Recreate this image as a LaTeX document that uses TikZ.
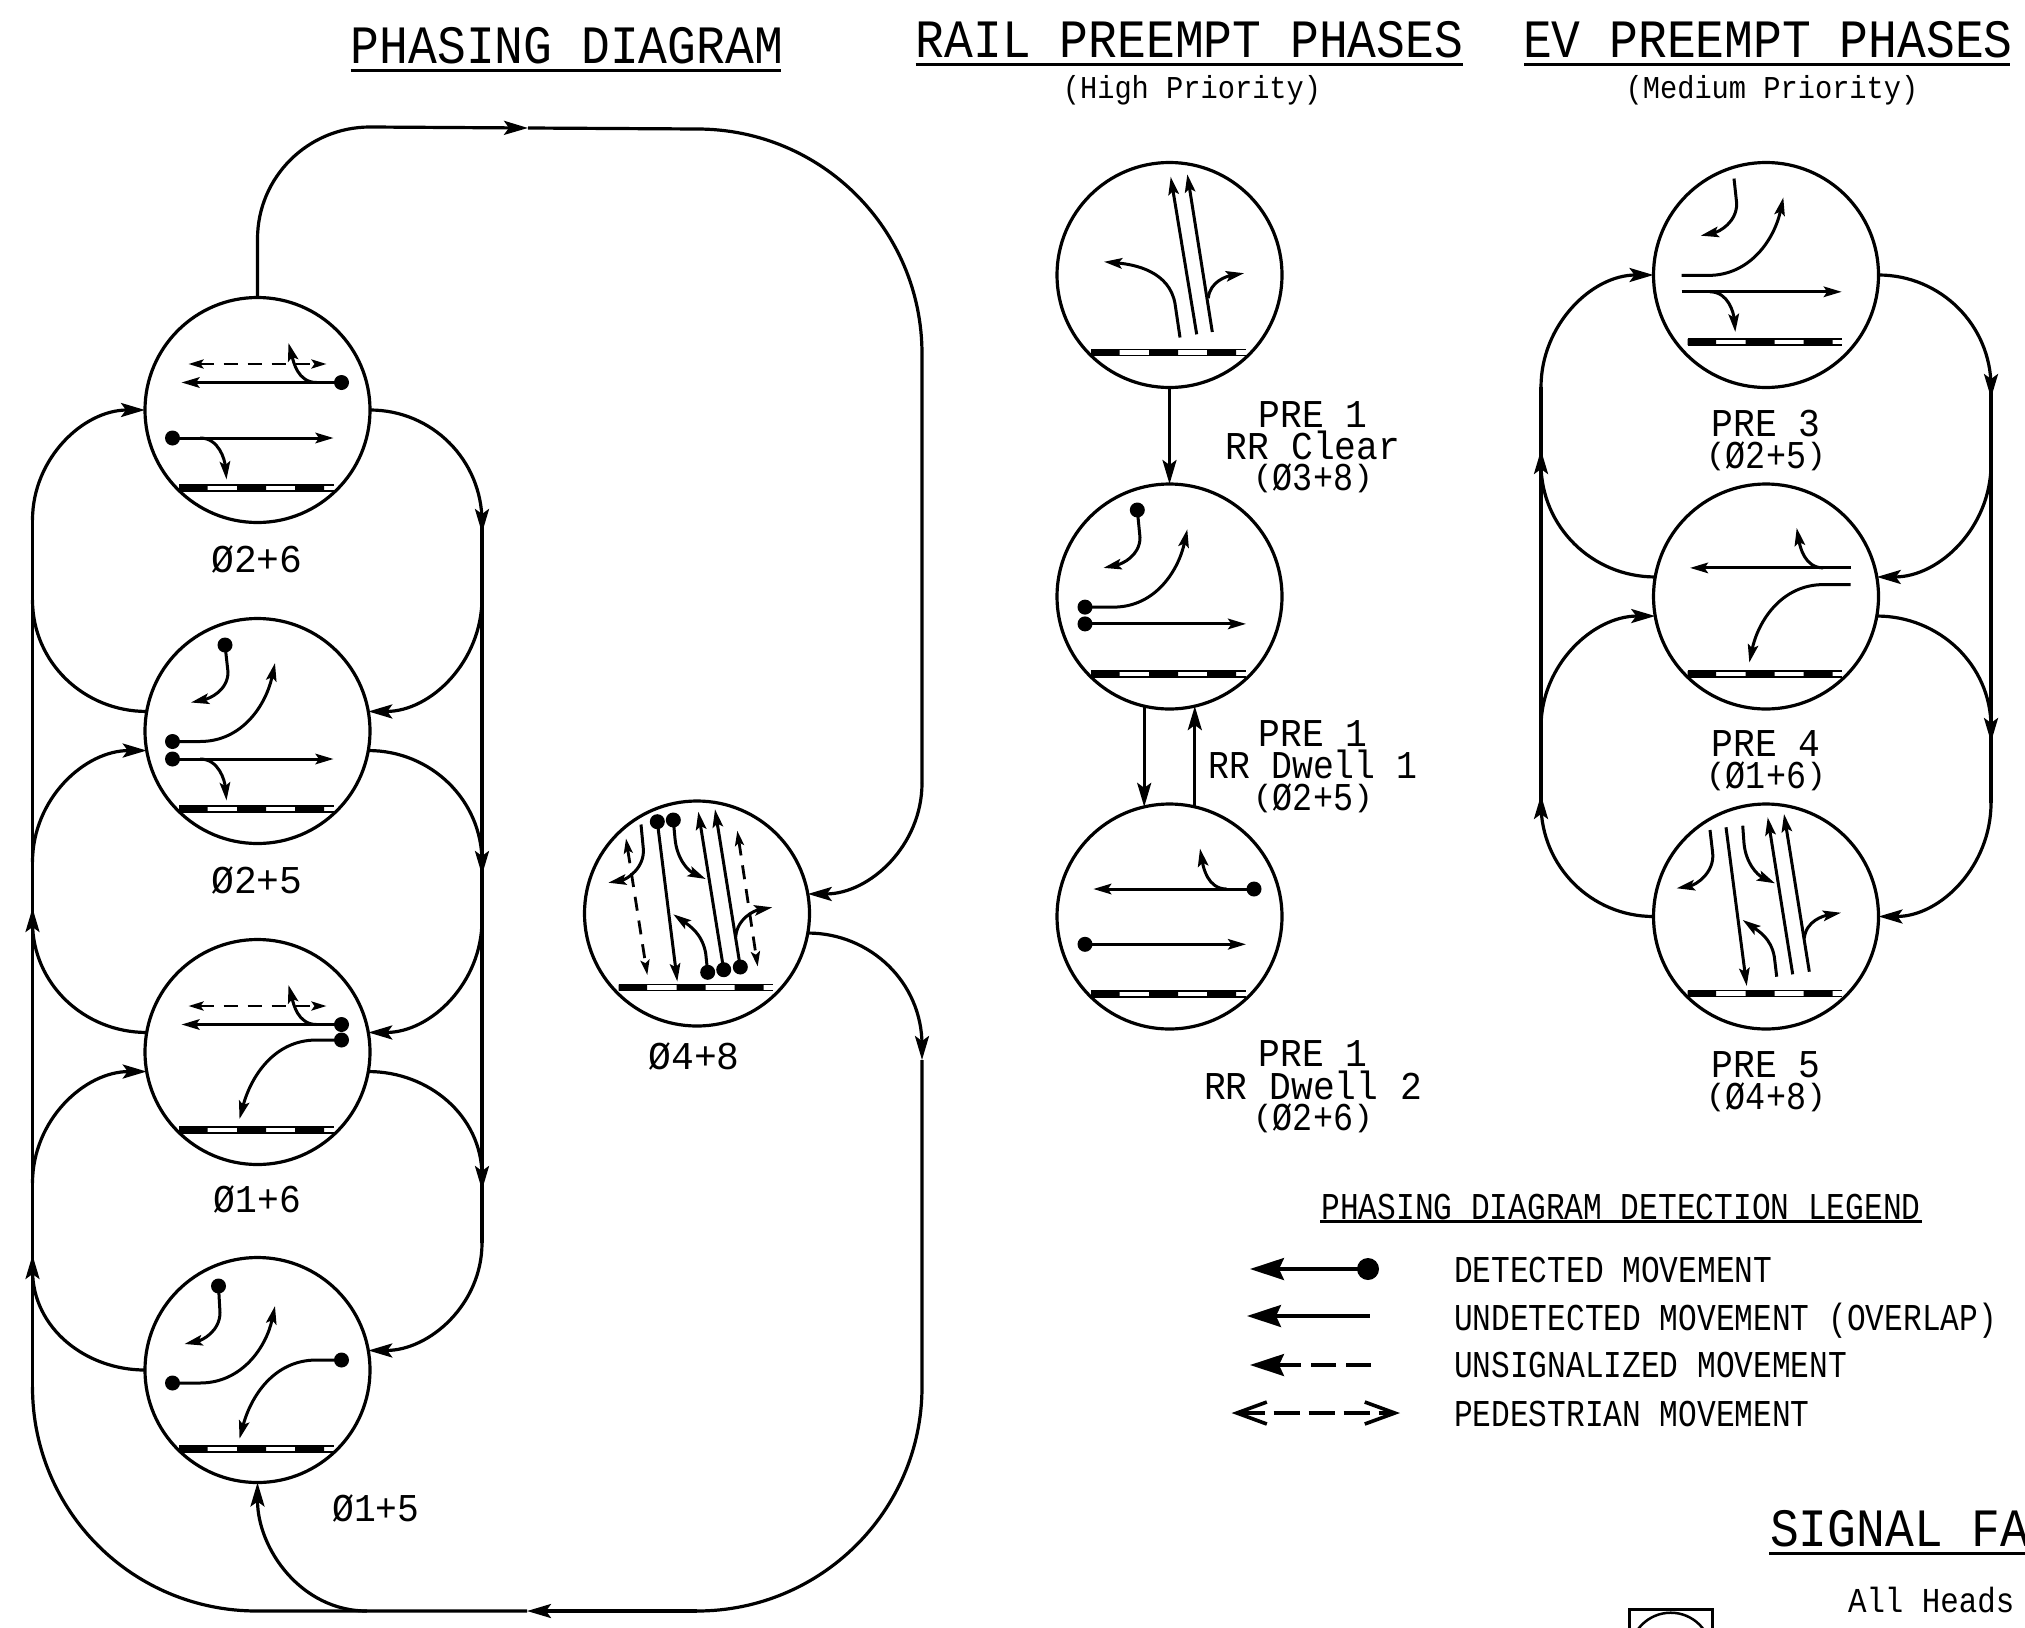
\documentclass[tikz,border=0pt]{standalone}
\usepackage{fontspec}
\usepackage{graphicx}
\setmainfont{Liberation Mono}
\usetikzlibrary{arrows.meta}
\tikzset{
  phase/.style={circle,draw,line width=3.2pt,minimum size=225pt,inner sep=0pt,outer sep=0pt},
  wire/.style={line width=3.2pt},
  conn/.style={line width=3.2pt,-{Stealth[length=24pt,width=14pt,inset=5pt]}},
  mv/.style={line width=3pt,-{Stealth[length=18pt,width=10.5pt,inset=3.5pt]}},
  ped/.style={line width=2.8pt,dash pattern=on 14pt off 10pt,{Stealth[length=15pt,width=9pt,inset=3pt]}-{Stealth[length=15pt,width=9pt,inset=3pt]}},
  lbl/.style={inner sep=0pt,outer sep=0pt,anchor=base},
  lblw/.style={inner sep=0pt,outer sep=0pt,anchor=base west},
  rule/.style={line width=3pt},
  legend/.style={line width=3.2pt},
}
\newcommand\ttl[1]{\scalebox{4.8}[5.4]{#1}}
\newcommand\lab[1]{\scalebox{3.63}[3.94]{#1}}
\newcommand\labw[1]{\scalebox{3.8}[3.94]{#1}}
\newcommand\labn[1]{\scalebox{3.48}[3.94]{#1}}
\newcommand\plab[1]{\scalebox{3.34}[3.94]{\raisebox{1pt}{\scalebox{1}[0.78]{(}}#1\raisebox{1pt}{\scalebox{1}[0.78]{)}}}}
\newcommand\sbt[1]{\scalebox{2.87}[3.18]{#1}}
\newcommand\lgd[1]{\scalebox{3.12}[3.79]{#1}}
\newcommand\hds[1]{\scalebox{3.08}[3.5]{#1}}
\newcommand\dotp[2]{\fill (#1,#2) circle[radius=7.5pt];}
\newcommand\xwalk[1]{%
  \draw[line width=1.6pt] (-78.5,#1) -- (76,#1) (-78.5,#1+6) -- (76,#1+6);
  \fill (-78.5,#1) rectangle (-50,#1+6) (-20.5,#1) rectangle (8.5,#1+6) (37.5,#1) rectangle (66.5,#1+6);}
% shared movement groups
\newcommand\ebthru{\draw[mv] (-85,28) -- (76,28); \draw[mv] (-57.5,28) to[out=0,in=95] (-31,69.5);\dotp{-85}{28}}
\newcommand\wbthru{\draw[mv] (84,-27.5) -- (-76,-27.5); \draw[mv] (59,-27.5) to[out=180,in=-75] (31,-67);\dotp{84}{-27.5}}
\newcommand\nbleft{\draw[mv] (-32.5,-86) -- (-29.5,-59) to[out=-90,in=12] (-66.5,-28.5);\dotp{-32.5}{-86}}
\newcommand\ebleft{\draw[mv] (-85,10.5) -- (-57.5,10.5) to[out=0,in=-102] (17.5,-68);\dotp{-85}{10.5}}
\begin{document}
\begin{tikzpicture}[x=1pt,y=-1pt]
\useasboundingbox (0,0) rectangle (2025,1627);
\clip (0,0) rectangle (2025,1627);

% ---- Titles
\node[lbl] (tphasing) at (567,64) {\ttl{PHASING DIAGRAM}};
\node[lbl] (trail) at (1189.5,58) {\ttl{RAIL PREEMPT PHASES}};
\node[lbl] (tev) at (1768,58) {\ttl{EV PREEMPT PHASES}};
\draw[rule] (350.5,71) -- (781,71);
\draw[rule] (915.5,65) -- (1463,65);
\draw[rule] (1524,65) -- (2010,65);
\node[lbl] (shigh) at (1192,99) {\sbt{(High Priority)}};
\node[lbl] (smed) at (1772,99) {\sbt{(Medium Priority)}};

% ---- Phasing circles
\node[phase] (c1) at (257.5,410) {};
\node[phase] (c2) at (257.5,731) {};
\node[phase] (c3) at (257.5,1052) {};
\node[phase] (c4) at (257.5,1370) {};
\node[phase] (c0) at (697,913.5) {};
\node[lbl] (l1) at (257,572) {\labw{Ø2+6}};
\node[lbl] (l2) at (257,893) {\labw{Ø2+5}};
\node[lbl] (l3) at (257.5,1212.5) {\lab{Ø1+6}};
\node[lbl] (l4) at (376,1521.5) {\lab{Ø1+5}};
\node[lbl] (l0) at (694,1069.5) {\labw{Ø4+8}};

% inner movements
\begin{scope}[shift={(c1)}]
  \xwalk{75}
  \draw[ped] (-69,-46) -- (69,-46);
  \wbthru \ebthru
\end{scope}
\begin{scope}[shift={(c2)}]
  \xwalk{75}
  \nbleft \ebleft \ebthru
\end{scope}
\begin{scope}[shift={(c3)}]
  \xwalk{75}
  \draw[ped] (-69,-46) -- (69,-46);
  \wbthru
  \draw[mv] (84,-12) -- (59,-12) to[out=180,in=75] (-18,67); \dotp{84}{-12}
\end{scope}
\begin{scope}[shift={(c4)}]
  \xwalk{76}
  \draw[mv] (-39,-84) -- (-37.5,-57.5) to[out=-90,in=12] (-73,-26); \dotp{-39}{-84}
  \draw[mv] (-85,13) -- (-57.5,13) to[out=0,in=-102] (17.5,-64); \dotp{-85}{13}
  \draw[mv] (84,-10) -- (59,-10) to[out=180,in=75] (-18,68.7); \dotp{84}{-10}
\end{scope}
\begin{scope}[shift={(c0)}]
  \xwalk{71}
  \draw[ped] (-71,-75) -- (-49.7,61.5);
  \draw[ped] (40.3,-82.8) -- (60.7,53);
  \draw[mv] (-56,-89) -- (-53.7,-65) to[out=-85,in=10] (-88.7,-30.8);
  \draw[mv] (-39.7,-91.8) -- (-19.7,68); \dotp{-39.7}{-91.8}
  \draw[mv] (-23.7,-93.5) -- (-22,-75) to[out=-85,in=155] (8.7,-34.5); \dotp{-23.7}{-93.5}
  \draw[mv] (10.7,58.8) -- (8.7,39.8) to[out=100,in=-35] (-23.7,0.8); \dotp{10.7}{58.8}
  \draw[mv] (26.7,56.2) -- (1.3,-101.8); \dotp{26.7}{56.2}
  \draw[mv] (43.3,53.5) -- (18,-104.2); \dotp{43.3}{53.5}
  \draw[mv] (38.7,23.2) to[out=85,in=190] (75.3,-6.2);
\end{scope}

% ---- Phasing loop, right bus
\coordinate (ra) at (482,522);  \coordinate (rat) at (482,533);
\coordinate (rb) at (482,598);
\coordinate (rc) at (482,862);  \coordinate (rct) at (482,875);
\coordinate (rd) at (482,920);
\coordinate (re) at (482,1176); \coordinate (ret) at (482,1190);
\coordinate (rf) at (482,1243);
\draw[wire] (ra) -- (rf);
\draw[conn] (c1.east) to[out=0,in=90] (ra) -- (rat);
\draw[conn] (rb) to[out=-90,in=0] (c2.10);
\draw[conn] (c2.-10) to[out=0,in=90] (rc) -- (rct);
\draw[conn] (rd) to[out=-90,in=0] (c3.10);
\draw[conn] (c3.-10) to[out=0,in=90] (re) -- (ret);
\draw[conn] (rf) to[out=-90,in=0] (c4.10);

% ---- Phasing loop, left bus
\coordinate (la) at (32.5,520);
\coordinate (lb) at (32.5,600);
\coordinate (lc) at (32.5,862);
\coordinate (ld) at (32.5,922); \coordinate (ldt) at (32.5,908);
\coordinate (le) at (32.5,1183);
\coordinate (lf) at (32.5,1270); \coordinate (lft) at (32.5,1255);
\coordinate (lg) at (32.5,1387);
\draw[wire] (la) -- (lg);
\draw[conn] (la) to[out=90,in=180] (c1.west);
\draw[wire] (c2.170) to[out=180,in=-90] (lb);
\draw[conn] (lc) to[out=90,in=180] (c2.-170);
\draw[conn] (c3.170) to[out=180,in=-90] (ld) -- (ldt);
\draw[conn] (le) to[out=90,in=180] (c3.-170);
\draw[conn] (c4.west) to[out=180,in=-90] (lf) -- (lft);

% ---- Outer loop
\coordinate (t1) at (257.5,239); \coordinate (t2) at (370,127);
\coordinate (t3) at (528,128);   \coordinate (t4) at (697,129);
\coordinate (t5) at (922,354);   \coordinate (t6) at (922,783);
\draw[conn] (c1.north) -- (t1) to[out=90,in=180] (t2) -- (t3);
\draw[wire] (t3) -- (t4) to[out=0,in=90] (t5) -- (t6);
\draw[conn] (t6) to[out=-90,in=0] (c0.10);
\coordinate (b1) at (922,1045); \coordinate (b2) at (922,1060);
\coordinate (b3) at (922,1387); \coordinate (b4) at (697,1611);
\coordinate (b5) at (527,1611); \coordinate (b6) at (367,1611);
\coordinate (b7) at (257,1611);
\draw[conn] (c0.-10) to[out=0,in=90] (b1) -- (b2);
\draw[wire] (b2) -- (b3) to[out=-90,in=0] (b4);
\draw[conn] (b4) -- (b5);
\draw[wire] (b5) -- (b7) to[out=180,in=-90] (lg);
\draw[conn] (b6) to[out=180,in=-90] (c4.south);

% ---- Rail preempt
\node[phase] (r1) at (1169.5,275) {};
\node[phase] (r2) at (1169.5,596.5) {};
\node[phase] (r3) at (1169.5,916.5) {};
\begin{scope}[shift={(r1)}]
  \xwalk{74.5}
  \draw[mv] (27.2,59.3) -- (1.2,-98.2);
  \draw[mv] (42.8,57) -- (17.8,-100.7);
  \draw[mv] (10.5,62.5) -- (5.5,28.6) to[out=100,in=-5] (-65.5,-13.2);
  \draw[mv] (38.8,23.2) to[out=85,in=190] (74.5,-1.8);
\end{scope}
\begin{scope}[shift={(r2)}]
  \xwalk{74.5}
  \draw[mv] (-32.2,-86.5) -- (-29.5,-59) to[out=-90,in=12] (-66,-28.6); \dotp{-32.2}{-86.5}
  \draw[mv] (-84.5,10.6) -- (-56,10.6) to[out=0,in=-102] (17.8,-67.2); \dotp{-84.5}{10.6}
  \draw[mv] (-84.5,27.4) -- (76.5,27.4); \dotp{-84.5}{27.4}
\end{scope}
\begin{scope}[shift={(r3)}]
  \xwalk{74.5}
  \draw[mv] (84.5,-27.5) -- (-76.2,-27.5);
  \draw[mv] (57,-27.5) to[out=180,in=-80] (30.5,-68); \dotp{84.5}{-27.5}
  \draw[mv] (-84.5,27.8) -- (76.5,27.8); \dotp{-84.5}{27.8}
\end{scope}
\draw[conn] (r1.south) -- (r2.north);
\draw[conn] (r2.-103) -- (r3.103);
\draw[conn] (r3.77.2) -- (r2.-77.2);
\node[lbl] (p11) at (1313,427.5) {\lab{PRE 1}};
\node[lbl] (p12) at (1313,459) {\lab{RR Clear}};
\node[lbl] (p13) at (1313,490) {\plab{Ø3+8}};
\node[lbl] (p21) at (1313,746) {\lab{PRE 1}};
\node[lbl] (p22) at (1313,778.5) {\labn{RR Dwell 1}};
\node[lbl] (p23) at (1313,810) {\plab{Ø2+5}};
\node[lbl] (p31) at (1313,1066.5) {\lab{PRE 1}};
\node[lbl] (p32) at (1313,1099) {\lab{RR Dwell 2}};
\node[lbl] (p33) at (1313,1130) {\plab{Ø2+6}};

% ---- EV preempt
\node[phase] (e1) at (1766,275) {};
\node[phase] (e2) at (1766,596.5) {};
\node[phase] (e3) at (1766,916.5) {};
\begin{scope}[shift={(e1)}]
  \xwalk{64}
  \draw[mv] (-32,-96.4) -- (-29.3,-71.4) to[out=-90,in=12] (-65.3,-39.3);
  \draw[mv] (-84.3,0.4) -- (-57.7,0.4) to[out=0,in=-102] (17.3,-77.5);
  \draw[mv] (-84.3,16.8) -- (75.7,16.8);
  \draw[mv] (-56,16.8) to[out=0,in=95] (-30.7,57);
\end{scope}
\begin{scope}[shift={(e2)}]
  \xwalk{74.5}
  \draw[mv] (84.7,-28.6) -- (-76,-28.6);
  \draw[mv] (57.3,-28.6) to[out=180,in=-80] (30.7,-68.6);
  \draw[mv] (84.7,-11.9) -- (57.3,-11.9) to[out=180,in=78] (-16.7,66);
\end{scope}
\begin{scope}[shift={(e3)}]
  \xwalk{74}
  \draw[mv] (-56,-86.5) -- (-53.3,-63.2) to[out=-85,in=10] (-89.3,-28.2);
  \draw[mv] (-40,-89.2) -- (-19.3,69.5);
  \draw[mv] (-23.3,-90.8) -- (-22,-73.2) to[out=-85,in=155] (9,-33.2);
  \draw[mv] (10.7,60.2) -- (8.3,40.2) to[out=100,in=-35] (-23.3,3.5);
  \draw[mv] (26.7,57.8) -- (1.7,-99.2);
  \draw[mv] (43.3,55.2) -- (18,-102.5);
  \draw[mv] (38.3,21.8) to[out=85,in=190] (75,-3.8);
\end{scope}
\coordinate (ea) at (1991,387);  \coordinate (eat) at (1991,398);
\coordinate (eb) at (1991,464);
\coordinate (ec) at (1991,727);  \coordinate (ect) at (1991,742);
\coordinate (ed) at (1991,803);
\coordinate (fa) at (1541,387);
\coordinate (fb) at (1541,464);  \coordinate (fbt) at (1541,450);
\coordinate (fc) at (1541,727);
\coordinate (fd) at (1541,804);  \coordinate (fdt) at (1541,795);
\draw[wire] (ea) -- (ed);
\draw[wire] (fa) -- (fd);
\draw[conn] (e1.east) to[out=0,in=90] (ea) -- (eat);
\draw[conn] (eb) to[out=-90,in=0] (e2.10);
\draw[conn] (e2.-10) to[out=0,in=90] (ec) -- (ect);
\draw[conn] (ed) to[out=-90,in=0] (e3.east);
\draw[conn] (fa) to[out=90,in=180] (e1.west);
\draw[conn] (e2.170) to[out=180,in=-90] (fb) -- (fbt);
\draw[conn] (fc) to[out=90,in=180] (e2.-170);
\draw[conn] (e3.west) to[out=180,in=-90] (fd) -- (fdt);
\node[lbl] (q11) at (1766,436.5) {\lab{PRE 3}};
\node[lbl] (q12) at (1766,468.5) {\plab{Ø2+5}};
\node[lbl] (q21) at (1766,756) {\lab{PRE 4}};
\node[lbl] (q22) at (1766,788.5) {\plab{Ø1+6}};
\node[lbl] (q31) at (1766,1077.5) {\lab{PRE 5}};
\node[lbl] (q32) at (1766,1109) {\plab{Ø4+8}};

% ---- Legend
\node[lbl] (lgt) at (1621,1219) {\lgd{PHASING DIAGRAM DETECTION LEGEND}};
\draw[line width=2.5pt] (1320,1221.7) -- (1922,1221.7);
\node[lblw] (lg1) at (1454,1282) {\lgd{DETECTED MOVEMENT}};
\node[lblw] (lg2) at (1454,1330) {\lgd{UNDETECTED MOVEMENT (OVERLAP)}};
\node[lblw] (lg3) at (1454,1377.7) {\lgd{UNSIGNALIZED MOVEMENT}};
\node[lblw] (lg4) at (1454,1426) {\lgd{PEDESTRIAN MOVEMENT}};
\tikzset{bighead/.style={-{Stealth[length=34pt,width=22pt,inset=5pt]}}}
\coordinate (s1a) at (1368,1269); \coordinate (s1b) at (1250,1269);
\coordinate (s2a) at (1369.5,1316); \coordinate (s2b) at (1247,1316);
\coordinate (s3a) at (1371,1365);   \coordinate (s3b) at (1250,1365);
\coordinate (s4a) at (1231.6,1413); \coordinate (s4b) at (1400,1413);
\draw[legend,bighead] (s1a) -- (s1b); \fill (s1a) circle[radius=11pt];
\draw[legend,bighead] (s2a) -- (s2b);
\draw[legend,dash pattern=on 25pt off 10pt,bighead] (s3a) -- (s3b);
\draw[legend,line width=3.6pt,dash pattern=on 26pt off 9pt,{Straight Barb[length=30pt,width=22pt]}-{Straight Barb[length=30pt,width=22pt]}] (s4a) -- (s4b);

% ---- Signal face fragment
\node[lblw] (sf) at (1770,1546.7) {\ttl{SIGNAL FA}};
\draw[rule] (1769,1553) -- (2025,1553);
\node[lblw] (ah) at (1848,1612.7) {\hds{All Heads}};
\draw[line width=2.5pt] (1629.3,1640) -- (1629.3,1609.3) -- (1712.7,1609.3) -- (1712.7,1640);
\draw[line width=2.5pt] (1670.7,1653.4) circle[radius=40.7pt];
\end{tikzpicture}
\end{document}
